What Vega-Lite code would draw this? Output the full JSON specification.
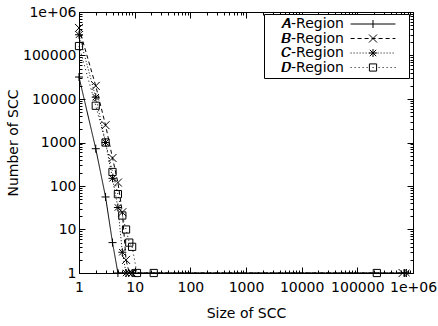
{
  "$schema": "https://vega.github.io/schema/vega-lite/v6.json",
  "width": 334,
  "height": 261,
  "autosize": "none",
  "padding": {"left": 79, "top": 12, "right": 25, "bottom": 53},
  "config": {
    "view": {"stroke": "black", "strokeWidth": 1},
    "font": "DejaVu Sans",
    "axis": {
      "domainColor": "black", "tickColor": "black", "labelColor": "black", "titleColor": "black",
      "labelFont": "DejaVu Sans", "titleFont": "DejaVu Sans", "labelFontSize": 14, "titleFontSize": 14,
      "titleFontWeight": "normal", "grid": false, "labelOverlap": false, "labelFlush": false, "tickWidth": 1, "domainWidth": 1
    }
  },
  "data": {
    "values": [
      {"region": "A-Region", "size": 1, "count": 32000},
      {"region": "A-Region", "size": 2, "count": 720},
      {"region": "A-Region", "size": 3, "count": 56},
      {"region": "A-Region", "size": 4, "count": 5},
      {"region": "A-Region", "size": 5, "count": 1},
      {"region": "A-Region", "size": 700000, "count": 1},
      {"region": "B-Region", "size": 1, "count": 430000},
      {"region": "B-Region", "size": 2, "count": 20000},
      {"region": "B-Region", "size": 3, "count": 2500},
      {"region": "B-Region", "size": 4, "count": 440},
      {"region": "B-Region", "size": 5, "count": 120},
      {"region": "B-Region", "size": 6, "count": 25},
      {"region": "B-Region", "size": 7, "count": 2},
      {"region": "B-Region", "size": 8, "count": 1},
      {"region": "B-Region", "size": 9, "count": 1},
      {"region": "B-Region", "size": 650000, "count": 1},
      {"region": "C-Region", "size": 1, "count": 300000},
      {"region": "C-Region", "size": 2, "count": 11000},
      {"region": "C-Region", "size": 3, "count": 1000},
      {"region": "C-Region", "size": 4, "count": 150},
      {"region": "C-Region", "size": 5, "count": 32},
      {"region": "C-Region", "size": 6, "count": 3},
      {"region": "C-Region", "size": 7, "count": 1},
      {"region": "C-Region", "size": 9, "count": 1},
      {"region": "C-Region", "size": 760000, "count": 1},
      {"region": "D-Region", "size": 1, "count": 165000},
      {"region": "D-Region", "size": 2, "count": 7000},
      {"region": "D-Region", "size": 3, "count": 1000},
      {"region": "D-Region", "size": 4, "count": 210},
      {"region": "D-Region", "size": 5, "count": 65},
      {"region": "D-Region", "size": 6, "count": 21},
      {"region": "D-Region", "size": 7, "count": 10},
      {"region": "D-Region", "size": 8, "count": 5},
      {"region": "D-Region", "size": 9, "count": 4},
      {"region": "D-Region", "size": 11, "count": 1},
      {"region": "D-Region", "size": 22, "count": 1},
      {"region": "D-Region", "size": 224000, "count": 1}
    ]
  },
  "resolve": {
    "scale": {"shape": "independent"},
    "axis": {"x": "independent", "y": "independent"},
    "legend": {"shape": "independent"}
  },
  "layer": [
    {
      "mark": {"type": "line", "strokeWidth": 1, "color": "black"},
      "encoding": {
        "x": {
          "field": "size", "type": "quantitative",
          "scale": {"type": "log", "domain": [1, 1000000]},
          "axis": {
            "orient": "bottom", "title": "Size of SCC", "titlePadding": 9,
            "values": [1,2,3,4,5,6,7,8,9,10,20,30,40,50,60,70,80,90,100,200,300,400,500,600,700,800,900,1000,2000,3000,4000,5000,6000,7000,8000,9000,10000,20000,30000,40000,50000,60000,70000,80000,90000,100000,200000,300000,400000,500000,600000,700000,800000,900000,1000000],
            "labelExpr": "datum.value == 1000000 ? '1e+06' : (indexof([1,10,100,1000,10000,100000], datum.value) >= 0 ? format(datum.value, 'd') : '')",
            "tickSize": {"condition": {"test": "indexof([1,10,100,1000,10000,100000,1000000], datum.value) >= 0", "value": -6}, "value": -3},
            "labelPadding": 13
          }
        },
        "y": {
          "field": "count", "type": "quantitative",
          "scale": {"type": "log", "domain": [1, 1000000]},
          "axis": {
            "orient": "left", "title": "Number of SCC", "titlePadding": 2,
            "values": [1,2,3,4,5,6,7,8,9,10,20,30,40,50,60,70,80,90,100,200,300,400,500,600,700,800,900,1000,2000,3000,4000,5000,6000,7000,8000,9000,10000,20000,30000,40000,50000,60000,70000,80000,90000,100000,200000,300000,400000,500000,600000,700000,800000,900000,1000000],
            "labelExpr": "datum.value == 1000000 ? '1e+06' : (indexof([1,10,100,1000,10000,100000], datum.value) >= 0 ? format(datum.value, 'd') : '')",
            "tickSize": {"condition": {"test": "indexof([1,10,100,1000,10000,100000,1000000], datum.value) >= 0", "value": -6}, "value": -3},
            "labelPadding": 9
          }
        },
        "strokeDash": {
          "field": "region", "type": "nominal",
          "scale": {"domain": ["A-Region", "B-Region", "C-Region", "D-Region"], "range": [[1, 0], [4, 3], [1, 2], [1, 3]]},
          "legend": null
        }
      }
    },
    {
      "mark": {"type": "point", "filled": false, "color": "black", "strokeWidth": 1, "size": 64, "opacity": 1},
      "encoding": {
        "x": {
          "field": "size", "type": "quantitative",
          "axis": {
            "orient": "top", "title": null, "labels": false,
            "values": [1,2,3,4,5,6,7,8,9,10,20,30,40,50,60,70,80,90,100,200,300,400,500,600,700,800,900,1000,2000,3000,4000,5000,6000,7000,8000,9000,10000,20000,30000,40000,50000,60000,70000,80000,90000,100000,200000,300000,400000,500000,600000,700000,800000,900000,1000000],
            "tickSize": {"condition": {"test": "indexof([1,10,100,1000,10000,100000,1000000], datum.value) >= 0", "value": -6}, "value": -3}
          }
        },
        "y": {
          "field": "count", "type": "quantitative",
          "axis": {
            "orient": "right", "title": null, "labels": false,
            "values": [1,2,3,4,5,6,7,8,9,10,20,30,40,50,60,70,80,90,100,200,300,400,500,600,700,800,900,1000,2000,3000,4000,5000,6000,7000,8000,9000,10000,20000,30000,40000,50000,60000,70000,80000,90000,100000,200000,300000,400000,500000,600000,700000,800000,900000,1000000],
            "tickSize": {"condition": {"test": "indexof([1,10,100,1000,10000,100000,1000000], datum.value) >= 0", "value": -6}, "value": -3}
          }
        },
        "shape": {
          "field": "region", "type": "nominal",
          "scale": {
            "domain": ["A-Region", "B-Region", "C-Region", "D-Region"],
            "range": [
              "M-1,0H1M0,-1V1",
              "M-1,-1L1,1M-1,1L1,-1",
              "M-1,0H1M0,-1V1M-0.8,-0.8L0.8,0.8M-0.8,0.8L0.8,-0.8",
              "M-0.9,-0.9H0.9V0.9H-0.9Z"
            ]
          },
          "legend": null
        }
      }
    },
    {
      "transform": [{"filter": "datum.count < 0"}],
      "mark": {"type": "point", "filled": false, "color": "black", "strokeWidth": 1, "size": 64, "opacity": 1},
      "encoding": {
        "x": {"field": "size", "type": "quantitative", "axis": null},
        "y": {"field": "count", "type": "quantitative", "axis": null},
        "shape": {
          "field": "region", "type": "nominal",
          "scale": {
            "domain": ["A-Region", "B-Region", "C-Region", "D-Region"],
            "range": [
              "M-5.6,0H5.6M0,-1V1M7.6,0",
              "M-5.6,0h1M-3.85,0h1M-2.1,0h1M-0.35,0h1M1.4,0h1M3.15,0h1M4.9,0h0.7M-1,-1L1,1M-1,1L1,-1M7.6,0",
              "M-5.6,0h0.25M-4.85,0h0.25M-4.1,0h0.25M-3.35,0h0.25M-2.6,0h0.25M-1.85,0h0.25M-1.1,0h0.25M-0.35,0h0.25M0.4,0h0.25M1.15,0h0.25M1.9,0h0.25M2.65,0h0.25M3.4,0h0.25M4.15,0h0.25M4.9,0h0.25M-1,0H1M0,-1V1M-0.8,-0.8L0.8,0.8M-0.8,0.8L0.8,-0.8M7.6,0",
              "M-5.6,0h0.25M-4.6,0h0.25M-3.6,0h0.25M-2.6,0h0.25M-1.6,0h0.25M1.4,0h0.25M2.4,0h0.25M3.4,0h0.25M4.4,0h0.25M5.4,0h0.25M-0.9,-0.9H0.9V0.9H-0.9ZM-0.1,0h0.25M7.6,0"
            ]
          },
          "legend": {
            "title": null, "orient": "none", "legendX": 185, "legendY": 2,
            "strokeColor": "black", "fillColor": "white", "padding": 3,
            "labelFont": "DejaVu Sans", "labelFontSize": 14, "labelColor": "black",
            "labelAlign": "right", "labelOffset": -36,
            "symbolOffset": 99, "symbolSize": 64, "symbolStrokeWidth": 1, "symbolStrokeColor": "black",
            "rowPadding": 0.5, "labelLimit": 0,
            "labelExpr": "datum.label == 'A-Region' ? '\ud835\udc68-Region' : datum.label == 'B-Region' ? '\ud835\udc69-Region' : datum.label == 'C-Region' ? '\ud835\udc6a-Region' : '\ud835\udc6b-Region'"
          }
        }
      }
    }
  ]
}
